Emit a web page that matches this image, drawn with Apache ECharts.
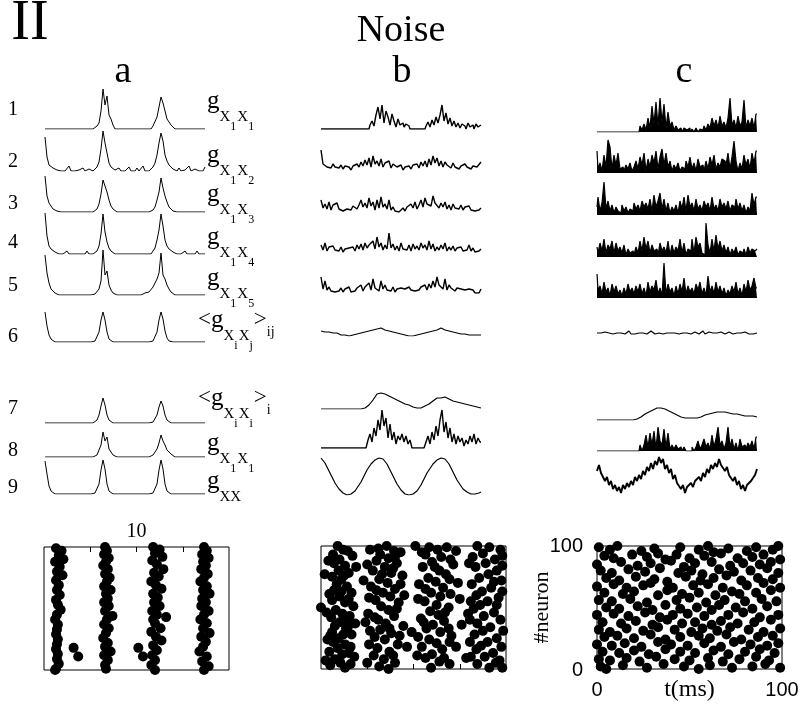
<!DOCTYPE html>
<html><head><meta charset="utf-8">
<script src="https://cdn.jsdelivr.net/npm/echarts@6/dist/echarts.min.js"></script>
<style>html,body{margin:0;padding:0;background:#fff}#c{width:803px;height:717px}</style>
</head><body><div id="c"></div>
<script>
// ---------- column a traces (heights above baseline) ----------
const a1 = [0,0,0,0,0,0,0,0,0,0, 0,0,0,0,0,0,0,0,0,0, 0,0,0,0,0,0,3,6,18,40, 24,33,14,10,4,0,0,0,0,0, 0,0,0,0,0,0,0,0,0,0, 0,0,0,0,3,5,12,22,32,26, 18,10,8,4,2,0,0,0,0,0, 0,0,0,0,0,0,0,0,0,0, 0];
const a2 = [34,14,6,8,3,2,1,0,0,0, 0,0,5,0,0,0,0,1,0,3, 0,0,2,0,0,1,4,9,22,40, 28,18,8,4,2,1,0,3,0,1, 0,2,4,0,1,0,3,0,0,5, 0,1,0,2,4,8,16,28,38,30, 16,10,6,4,2,1,0,3,0,0, 1,0,5,0,0,2,0,0,1,0, 4];
const a3 = [36,16,9,6,3,4,1,0,0,0, 0,0,0,0,0,0,0,0,0,0, 0,0,0,0,0,1,3,8,18,32, 26,20,12,6,3,1,0,0,0,0, 0,0,0,0,0,0,0,0,0,0, 0,0,0,0,2,5,12,20,34,24, 16,10,5,3,1,0,0,0,0,0, 0,0,0,0,0,0,0,0,0,0, 0];
const a4 = [41,18,8,5,3,2,1,0,0,0, 0,3,0,0,0,0,0,0,0,0, 0,3,0,0,0,1,3,8,20,40, 22,12,6,3,1,0,0,0,0,0, 0,0,0,0,0,0,0,0,0,0, 0,0,0,0,2,6,14,24,40,28, 14,8,5,3,2,1,0,0,0,0, 3,0,0,0,0,0,3,0,0,0, 0];
const a5 = [40,22,12,6,4,2,1,0,0,0, 0,0,0,0,0,0,0,0,0,0, 0,0,0,0,0,1,2,6,14,45, 20,24,10,5,2,1,0,0,0,0, 0,0,0,0,0,0,0,0,0,0, 2,1,3,5,8,12,16,22,42,20, 16,10,6,3,1,0,0,0,0,0, 0,0,0,0,0,0,0,0,0,0, 0];
const a6 = [30,16,7,3,1,0,0,0,0,0, 0,0,0,0,0,0,0,0,0,0, 0,0,0,0,0,1,3,10,22,30, 22,10,3,1,0,0,0,0,0,0, 0,0,0,0,0,0,0,0,0,0, 0,0,0,0,1,3,10,22,30,23, 11,4,1,0,0,0,0,0,0,0, 0,0,0,0,0,0,0,0,0,0, 0];
const a7 = [0,0,0,0,0,0,0,0,0,0, 0,0,0,0,0,0,0,0,0,0, 0,0,0,0,0,1,3,8,17,25, 18,8,3,1,0,0,0,0,0,0, 0,0,0,0,0,0,0,0,0,0, 0,0,0,0,1,3,8,16,22,17, 8,3,1,0,0,0,0,0,0,0, 0,0,0,0,0,0,0,0,0,0, 0];
const a8 = [0,0,0,0,0,0,0,0,0,0, 0,0,0,0,0,0,0,0,0,0, 0,0,0,0,0,0,2,4,12,25, 16,20,8,6,2,0,0,0,0,0, 0,0,0,0,0,0,0,0,0,0, 0,0,0,0,2,4,8,14,22,16, 12,7,5,3,1,0,0,0,0,0, 0,0,0,0,0,0,0,0,0,0, 0];
const a9 = [33,20,8,3,1,0,0,0,0,0, 0,0,0,0,0,0,0,0,0,0, 0,0,0,0,0,1,3,10,24,34, 25,10,3,1,0,0,0,0,0,0, 0,0,0,0,0,0,0,0,0,0, 0,0,0,0,1,3,10,24,34,25, 10,3,1,0,0,0,0,0,0,0, 0,0,0,0,0,0,0,0,0,0, 0];

// ---------- column b traces ----------
const b1 = [0,0,0,0,0,0,0,0,0,0, 0,0,0,0,0,0,0,0,0,0, 0,0,0,0,0,4,8,3,14,22, 10,24,6,18,12,4,15,8,2,10, 4,6,2,5,3,0,0,0,0,0, 0,0,0,3,7,2,9,4,12,6, 14,24,8,16,5,11,3,8,2,6, 1,5,3,0,6,2,4,0,5,2, 4];
const b2 = [20,6,8,3,5,2,6,3,4,2, 5,1,4,2,3,0,4,2,6,3, 8,4,10,5,12,3,14,6,9,4, 11,3,7,5,9,2,6,4,3,1, 5,0,3,2,4,1,5,3,6,2, 8,4,9,3,11,5,14,7,12,4, 9,3,8,5,6,2,7,3,5,1, 4,2,6,3,5,1,4,2,3,1, 8];
const b3 = [12,4,8,3,10,2,7,5,9,3, 2,1,0,3,4,2,6,8,3,7, 12,5,9,4,14,6,10,2,12,4, 15,5,8,3,12,2,5,1,3,0, 2,4,1,5,3,8,4,10,3,7, 12,5,14,8,10,6,16,9,11,4, 9,5,10,3,7,2,8,4,6,3, 7,2,5,3,6,2,4,1,3,2, 4];
const b4 = [8,3,10,2,6,4,7,3,5,2, 6,1,4,2,5,3,6,2,8,4, 9,3,10,5,8,6,12,4,16,6, 10,3,8,4,20,5,9,3,7,2, 10,4,6,3,8,2,9,4,7,3, 10,5,8,3,12,4,9,2,6,3, 8,4,10,2,6,3,7,2,5,3, 6,2,4,3,8,2,5,1,3,2, 4];
const b5 = [16,4,12,3,6,2,4,1,3,2, 5,1,4,2,6,1,3,2,5,3, 8,2,6,4,10,3,14,5,6,2, 12,4,8,3,5,2,6,1,4,2, 5,3,4,2,6,3,5,2,4,3, 6,4,8,3,9,5,12,6,16,8, 10,4,14,3,8,5,6,2,5,3, 4,2,3,1,4,2,3,0,1,0, 4];
const b6 = [5,5,4,5,4,3,3,2,3,2, 1,2,1,0,0,0,1,1,2,2, 3,3,4,4,5,5,6,6,7,7, 8,7,6,6,5,4,4,3,3,2, 2,1,1,1,0,0,0,1,1,2, 2,3,3,4,4,5,5,6,6,7, 8,7,6,6,5,5,4,4,3,3, 2,2,2,1,1,1,1,0,1,0, 1];
const b7 = [0,0,0,0,0,0,0,0,0,0, 0,0,0,0,0,0,0,0,0,0, 0,0,1,2,4,6,9,12,15,15, 16,17,15,14,13,12,11,10,9,8, 7,6,5,4,4,3,2,2,1,1, 1,2,3,4,5,7,8,9,11,11, 11,11,12,10,10,9,8,8,7,7, 6,6,5,5,4,4,3,3,2,2, 1];
const b8 = [0,0,0,0,0,0,0,0,0,0, 0,0,0,0,0,0,0,0,0,0, 0,0,0,0,8,14,6,20,12,28, 18,38,22,30,10,24,8,16,4,12, 8,14,6,12,4,8,0,0,0,0, 0,0,0,6,12,4,16,8,22,12, 28,38,16,26,10,20,6,14,4,12, 6,10,2,8,4,12,6,14,4,10, 6];
const b9 = [37,35,32,28,24,20,16,12,9,6, 4,2,1,0,0,1,2,4,7,10, 13,17,21,25,28,31,33,35,36,37, 37,36,34,31,27,23,19,15,11,8, 5,3,1,0,0,0,1,2,4,7, 10,14,18,22,25,28,31,33,35,36, 37,37,36,34,31,27,23,19,15,12, 9,6,4,3,2,1,1,1,2,2, 3];

// ---------- column c traces ----------
const c1 = [0,0,0,0,0,0,0,0,0,0, 0,0,0,0,0,0,0,0,0,0, 0,0,6,2,8,2,14,4,26,8, 30,6,34,10,28,4,20,6,10,2, 6,2,4,0,4,2,4,0,3,0, 4,0,3,2,6,2,8,4,14,6, 12,4,16,6,10,4,14,34,6,12, 4,16,6,10,32,4,12,6,14,4, 18];
const c2 = [22,4,10,2,18,6,33,26,4,18, 8,20,4,6,2,8,4,10,2,6, 12,4,16,8,20,2,14,6,18,10, 22,4,16,24,8,20,6,12,2,8, 4,10,2,6,4,12,6,16,4,10, 2,14,6,8,2,12,4,16,8,18, 4,10,6,14,12,8,20,4,16,32, 12,2,10,4,18,8,14,4,20,10, 22];
const c3 = [8,18,4,12,33,6,14,4,10,2, 8,4,2,10,4,8,2,6,4,12, 6,10,4,14,8,12,6,16,4,20, 8,14,22,6,16,4,12,2,8,4, 10,2,14,6,18,4,20,8,12,4, 16,6,10,4,14,8,12,4,18,6, 10,4,16,8,12,6,14,4,10,8, 16,6,12,4,10,2,8,4,22,10, 18];
const c4 = [10,4,14,6,18,4,12,8,16,4, 14,6,10,4,12,2,8,4,6,2, 10,4,16,6,20,8,16,4,12,6, 8,2,14,6,10,4,16,2,12,4, 10,6,18,4,14,2,8,6,18,4, 20,10,14,4,2,34,12,4,18,6, 22,8,16,6,12,4,10,2,8,4, 10,2,6,4,8,2,10,4,8,6, 8];
const c5 = [24,8,12,4,16,6,10,2,14,6, 12,4,8,2,10,4,14,6,10,4, 12,6,14,4,10,2,16,6,12,8, 18,4,10,2,35,4,14,6,10,2, 12,4,14,6,20,4,12,6,10,4, 14,8,16,4,10,2,22,6,12,4, 16,6,12,4,10,2,8,4,12,6, 16,4,10,2,14,6,18,8,12,20, 10];
const c6 = [2,1,2,1,3,1,2,2,1,3, 2,1,2,3,1,2,4,1,2,1, 3,2,1,2,3,1,2,4,2,1, 3,2,4,1,3,2,1,2,3,2, 2,1,2,2,1,2,3,1,2,3, 2,1,3,4,1,2,3,1,2,4, 2,1,3,2,1,2,3,2,1,3, 2,1,2,1,3,2,1,2,1,2, 2];
const c7 = [0,0,0,0,0,0,0,0,0,0, 0,0,0,0,0,0,0,0,0,0, 1,2,3,4,6,7,8,10,10,11, 12,13,12,12,11,10,9,8,7,6, 5,4,3,3,2,2,2,2,2,3, 2,3,3,4,5,5,6,7,7,8, 8,9,8,9,8,8,7,7,6,6, 6,5,5,5,4,4,4,3,4,3, 3];
const c8 = [0,0,0,0,0,0,0,0,0,0, 0,0,0,0,0,0,0,0,0,0, 0,0,6,0,6,16,4,18,6,20, 2,24,10,6,22,4,18,2,6,2, 6,2,4,0,4,0,0,0,4,0, 4,10,2,6,12,4,8,2,16,4, 12,24,6,10,2,8,24,4,12,2, 8,0,12,4,6,2,8,4,10,2, 14];
const c9 = [24,30,22,20,14,18,10,14,6,10, 4,8,2,10,6,12,8,14,10,18, 14,20,16,24,20,28,24,32,26,34, 30,38,32,36,26,30,22,26,16,20, 12,14,6,10,2,8,6,12,8,14, 12,18,14,22,18,26,22,30,26,32, 28,36,30,32,24,28,20,22,14,18, 10,14,6,10,4,10,8,14,12,20, 26];

// ---------- rasters: [time, neuron] ----------
const rasterA = [
 [1.3,99],[1.9,97],[1.6,93],[2.1,90],[1.2,88],[1.7,84],[1.4,80],[2.0,77],[1.3,73],[1.6,69],[1.4,65],[1.7,61],[1.3,57],[1.5,53],[1.8,49],[1.4,45],[1.2,41],[1.5,37],[1.4,33],[1.3,29],[1.5,25],[1.4,21],[1.3,17],[1.5,13],[1.4,9],[1.6,5],[1.3,1],[1.2,0],
 [6.6,100],[6.8,97],[6.5,94],[7.0,91],[6.7,88],[6.4,85],[6.9,82],[6.6,78],[7.1,75],[6.8,72],[6.5,68],[7.2,65],[6.7,62],[6.9,58],[6.5,55],[7.0,52],[6.6,48],[7.4,44],[6.8,41],[6.5,37],[7.0,34],[6.7,30],[6.4,26],[6.9,22],[6.6,19],[7.2,15],[6.5,12],[6.9,8],[6.6,4],[6.7,1],
 [11.8,100],[12.5,98],[12.0,95],[12.8,92],[11.7,89],[12.2,86],[12.9,82],[11.9,79],[12.4,76],[11.6,72],[12.1,69],[12.7,66],[11.8,62],[12.3,59],[11.9,55],[12.5,52],[11.7,48],[12.2,45],[11.8,41],[12.0,38],[12.6,34],[11.6,31],[12.1,27],[12.7,24],[11.8,20],[12.2,16],[11.7,12],[12.0,8],[11.6,4],[12.0,0],
 [17.3,100],[17.6,97],[17.1,94],[17.8,91],[17.2,88],[17.5,85],[17.0,82],[17.7,78],[17.3,75],[16.9,72],[17.6,68],[17.2,65],[17.9,62],[17.1,58],[17.5,55],[17.0,52],[17.8,48],[17.3,45],[16.9,41],[17.6,38],[17.2,34],[17.9,30],[17.0,27],[17.5,23],[17.2,19],[16.8,15],[17.6,11],[17.1,7],[17.8,3],[17.3,0],
 [3.2,18],[3.7,11],[10.2,18],[10.7,11],[13.2,43]
];
const rasterB = [
 [1.8,100],[2.4,97],[1.3,93],[3.4,92],[2.0,89],[1.4,86],[2.6,84],[1.9,80],[3.0,78],[1.2,75],[2.2,73],[0.4,77],[1.7,69],[2.8,67],[1.4,64],[3.3,62],[2.0,59],[1.2,56],[2.6,54],[3.5,51],[1.6,48],[2.3,45],[1.1,42],[3.1,43],[2.0,38],[1.5,35],[2.7,33],[1.2,30],[3.3,28],[1.9,25],[1.3,22],[2.6,20],[1.8,17],[0.9,14],[2.3,12],[3.6,10],[1.5,8],[2.1,5],[1.0,3],[2.6,1],[0.0,50],[3.2,18],[2.9,34],[0.7,24],
 [2.9,96],[0.8,88],[3.8,83],[2.5,76],[0.9,61],[2.2,63],[3.0,57],[0.6,46],[2.8,40],[3.7,37],[1.0,27],[2.4,28],[3.0,13],[0.5,7],[3.2,4],
 [5.3,97],[7.1,100],[7.9,96],[6.4,93],[8.6,95],[7.3,90],[6.0,88],[8.2,86],[6.9,83],[5.6,80],[7.6,78],[8.8,76],[6.3,73],[7.2,70],[5.4,67],[8.0,65],[6.7,62],[7.5,59],[5.9,56],[8.4,54],[6.5,51],[7.3,48],[5.1,45],[7.9,43],[6.2,40],[7.0,37],[8.9,35],[6.4,32],[7.6,29],[5.8,26],[6.9,24],[8.3,20],[6.1,17],[7.4,14],[5.7,11],[6.8,8],[8.0,5],[6.3,2],[7.3,0],[9.3,18],[9.0,60],[4.6,72],[4.8,38],[5.2,20],
 [6.2,98],[8.0,91],[5.0,85],[7.8,82],[6.6,77],[8.6,69],[6.0,64],[5.2,58],[8.2,49],[5.8,42],[7.4,33],[8.5,27],[5.3,31],[7.8,11],[5.0,5],
 [10.2,100],[11.7,99],[12.6,97],[14.6,96],[11.3,93],[13.0,91],[12.0,87],[14.3,85],[11.0,83],[12.8,80],[13.5,77],[11.6,74],[12.4,71],[10.6,69],[13.2,66],[11.9,62],[12.9,59],[15.0,57],[11.2,55],[12.5,52],[13.8,50],[11.8,47],[12.7,44],[10.8,41],[13.3,39],[12.1,36],[11.4,33],[12.9,30],[14.1,27],[11.7,24],[12.5,21],[10.9,18],[13.1,16],[12.0,12],[11.3,9],[12.8,6],[13.9,4],[11.9,1],[14.6,18],[15.2,36],[9.8,30],[14.8,70],
 [13.6,99],[10.9,95],[14.0,89],[12.3,83],[13.9,73],[11.3,65],[14.0,61],[10.5,57],[13.4,46],[11.1,38],[13.8,33],[10.5,26],[13.9,22],[10.4,11],[13.3,9],
 [16.9,100],[18.2,99],[19.4,97],[17.5,94],[16.4,91],[18.8,89],[17.8,86],[16.7,83],[19.0,80],[18.1,77],[17.1,74],[19.5,72],[16.3,69],[18.4,66],[17.4,63],[16.8,60],[19.2,58],[18.0,55],[17.2,52],[16.5,49],[18.7,46],[17.6,43],[19.4,40],[16.9,37],[18.3,34],[17.5,31],[16.6,28],[19.0,25],[18.0,22],[17.3,19],[16.8,16],[18.6,13],[17.7,10],[19.3,7],[16.9,4],[18.2,1],[15.7,9],[15.9,45],
 [19.6,92],[16.0,86],[19.6,84],[18.7,71],[19.6,63],[16.2,55],[19.0,52],[16.1,40],[19.7,31],[16.1,22],[19.5,18],[16.2,10],[18.9,5],[19.6,1]
];
const rasterC = [
 [1,99],[7,97],[11,100],[24,96],[31,98],[33,94],[45,99],[55,97],[60,100],[63,95],[71,98],[81,96],[86,99],[95,97],[98,100],
 [4,92],[9,90],[19,93],[27,91],[37,89],[43,93],[50,90],[58,92],[67,94],[76,90],[84,91],[90,93],[99,89],
 [0,85],[13,87],[22,84],[29,86],[40,88],[47,83],[53,86],[62,87],[72,84],[79,86],[88,85],[94,87],
 [2,80],[8,78],[17,81],[26,79],[34,82],[44,78],[51,80],[57,77],[66,81],[74,79],[83,80],[92,82],[98,78],
 [5,74],[12,72],[21,75],[31,73],[38,71],[48,75],[56,72],[63,74],[70,76],[78,72],[87,74],[95,73],
 [0,67],[9,69],[16,66],[25,68],[29,70],[41,66],[52,68],[60,69],[68,66],[81,68],[90,70],[99,66],
 [4,62],[14,61],[20,63],[33,60],[38,64],[46,61],[55,62],[64,60],[73,63],[77,61],[86,62],[94,64],
 [1,56],[8,55],[18,57],[27,54],[43,56],[50,58],[59,54],[69,56],[80,55],[89,57],[97,55],
 [5,50],[12,49],[22,51],[30,48],[37,52],[45,49],[54,50],[62,48],[66,52],[75,50],[84,49],[92,51],
 [0,44],[9,45],[17,43],[26,46],[34,42],[41,44],[49,45],[58,43],[71,44],[79,46],[88,42],[98,44],
 [3,38],[13,37],[21,39],[30,36],[38,40],[46,37],[53,38],[62,36],[67,39],[76,37],[85,38],[94,40],
 [1,32],[7,30],[16,33],[25,31],[33,34],[42,32],[51,30],[57,33],[65,31],[72,34],[82,32],[90,30],[99,33],
 [4,26],[11,27],[20,25],[29,28],[37,24],[45,26],[55,27],[61,25],[70,28],[78,24],[87,26],[95,27],
 [0,20],[8,19],[15,21],[24,18],[33,22],[40,20],[49,19],[58,21],[67,18],[74,22],[83,20],[92,19],[98,21],
 [3,14],[12,13],[20,15],[28,12],[37,16],[45,14],[53,13],[63,15],[71,12],[80,14],[88,16],[96,13],
 [1,8],[7,7],[16,9],[23,6],[32,10],[42,8],[50,7],[60,9],[68,6],[77,8],[86,10],[93,7],
 [2,2],[5,0],[14,3],[27,1],[36,4],[47,2],[55,0],[61,3],[73,1],[84,2],[91,4],[99,1]
];

// ---------- texts ----------
const rowNumbers = ['1','2','3','4','5','6','7','8','9'];
const columnLetters = ['a','b','c'];
const rowLabels = [
 [['g','m'],['X','s'],['1','ss'],['X','s'],['1','ss']],
 [['g','m'],['X','s'],['1','ss'],['X','s'],['2','ss']],
 [['g','m'],['X','s'],['1','ss'],['X','s'],['3','ss']],
 [['g','m'],['X','s'],['1','ss'],['X','s'],['4','ss']],
 [['g','m'],['X','s'],['1','ss'],['X','s'],['5','ss']],
 [['<','b'],['g','m'],['X','s'],['i','ss'],['X','s'],['j','ss'],['>','b'],['ij','si']],
 [['<','b'],['g','m'],['X','s'],['i','ss'],['X','s'],['i','ss'],['>','b'],['i','si']],
 [['g','m'],['X','s'],['1','ss'],['X','s'],['1','ss']],
 [['g','m'],['X','s'],['X','s']]
];
const rasterCTicks = ['0','100'];

// ---------- build ----------
const SERIF = "'Liberation Serif','Times New Roman',serif";
const SANS = "'Liberation Sans',Arial,sans-serif";
const chart = echarts.init(document.getElementById('c'), null, {renderer:'canvas'});
const option = {animation:false, backgroundColor:'#fff', grid:[], xAxis:[], yAxis:[], series:[], graphic:[]};

const traces = [[a1,a2,a3,a4,a5,a6,a7,a8,a9],[b1,b2,b3,b4,b5,b6,b7,b8,b9],[c1,c2,c3,c4,c5,c6,c7,c8,c9]];
const colLeft = [45, 321, 597];
const base = [[129,171,212,254,295,342,423,457,494],[129,170,212,253,293,336,409,448,495],[132,173,215,257,298,335,420,451,495]];
const spikyRows = [0,1,2,3,4,7];
traces.forEach((col, ci) => col.forEach((arr, ri) => {
  const gi = option.grid.length;
  const isSpiky = ci > 0 && spikyRows.indexOf(ri) >= 0;
  let w = 1;
  if (ci === 1) w = isSpiky ? 1.4 : 1.2;
  if (ci === 2) w = isSpiky ? 1.2 : (ri === 8 ? 1.9 : 1.2);
  option.grid.push({left: colLeft[ci], top: base[ci][ri] - 50, width: 160, height: 50, show: false});
  option.xAxis.push({type:'value', gridIndex: gi, min: 0, max: arr.length - 1, show: false});
  option.yAxis.push({type:'value', gridIndex: gi, min: 0, max: 50, show: false});
  const s = {type:'line', xAxisIndex: gi, yAxisIndex: gi, data: arr.map((v, i) => [i, v]),
    symbol:'none', showSymbol:false, silent:true, lineStyle:{color:'#000', width: w}};
  if (isSpiky && ci === 2) {
    s.step = 'middle';
    s.areaStyle = {color:'#000', opacity: 1, origin:'start'};
  }
  if (isSpiky && ci === 1 && (ri === 0 || ri === 7)) s.step = 'middle';
  option.series.push(s);
}));

function addRaster(cfg) {
  const gi = option.grid.length;
  option.grid.push({left: cfg.left, top: cfg.top, width: 185, height: 123, show: true, borderColor:'#000', borderWidth: 1, backgroundColor:'transparent'});
  option.xAxis.push(Object.assign({type:'value', gridIndex: gi, splitLine:{show:false}, axisLine:{show:false, onZero:false}}, cfg.x));
  option.yAxis.push(Object.assign({type:'value', gridIndex: gi, min:0, max:100, splitLine:{show:false}, axisLine:{show:false, onZero:false}}, cfg.y));
  option.series.push({type:'scatter', xAxisIndex: gi, yAxisIndex: gi, data: cfg.data, symbol:'circle', symbolSize: 10,
    itemStyle:{color:'#000', opacity:1}, clip:false, silent:true});
}
addRaster({left:44, top:547, data: rasterA,
  x:{min:0, max:20, interval:5, position:'top',
     axisTick:{show:true, inside:true, length:5, customValues:[5,10,15], lineStyle:{color:'#000'}},
     axisLabel:{show:true, margin:5, color:'#000', fontFamily:SERIF, fontSize:20, customValues:[10], formatter: v => String(v)}},
  y:{show:false}});
addRaster({left:321, top:546, data: rasterB,
  x:{min:0, max:20, interval:5, position:'bottom',
     axisTick:{show:true, inside:true, length:5, customValues:[5,10,15], lineStyle:{color:'#000'}}, axisLabel:{show:false}},
  y:{show:false}});
addRaster({left:597, top:546, data: rasterC,
  x:{min:0, max:100, interval:100, axisTick:{show:false}, axisLabel:{show:false},
     name:'t(ms)', nameLocation:'middle', nameGap:9, nameTextStyle:{color:'#000', fontFamily:SERIF, fontSize:24, verticalAlign:'top'}},
  y:{interval:100, axisTick:{show:false}, axisLabel:{show:false},
     name:'#neuron', nameLocation:'middle', nameGap:44, nameRotate:90, nameTextStyle:{color:'#000', fontFamily:SERIF, fontSize:22}}});

function txt(t, x, y, size, family, align) {
  option.graphic.push({type:'text', silent:true, style:{text:t, x:x, y:y, font: size + 'px ' + family, fill:'#000',
    textAlign: align || 'center', textVerticalAlign:'middle', verticalAlign:'middle'}});
}
// raster c tick labels (0 / 100)
txt(rasterCTicks[0], 597, 690, 20, SANS);
txt(rasterCTicks[1], 782, 690, 20, SANS);
txt(rasterCTicks[1], 583, 546, 20, SANS, 'right');
txt(rasterCTicks[0], 583, 670, 20, SANS, 'right');

txt('II', 30, 24, 56, SERIF);
txt('Noise', 401, 31, 38, SERIF);
const letterX = [123, 402, 684];
columnLetters.forEach((l, i) => txt(l, letterX[i], 72, 38, SERIF));
const numY = [110,162,204,243,286,337,409,451,488];
rowNumbers.forEach((n, i) => txt(n, 13, numY[i], 20, SERIF));

const ctx = document.createElement('canvas').getContext('2d');
const LV = {m:{size:25, dy:0}, b:{size:23, dy:-1}, s:{size:15, dy:12}, ss:{size:12, dy:21}, si:{size:14, dy:8}};
const labelBase = [110,164,203,246,287,329,407,452,490];
rowLabels.forEach((toks, ri) => {
  let x = toks[0][0] === '<' ? 198 : 207;
  toks.forEach(([t, lv]) => {
    const L = LV[lv];
    ctx.font = L.size + 'px ' + SERIF;
    const w = ctx.measureText(t).width;
    txt(t, x, labelBase[ri] + L.dy - 0.34 * L.size, L.size, SERIF, 'left');
    x += w + (lv === 'ss' ? 1 : 0);
  });
});

chart.setOption(option);
</script></body></html>
